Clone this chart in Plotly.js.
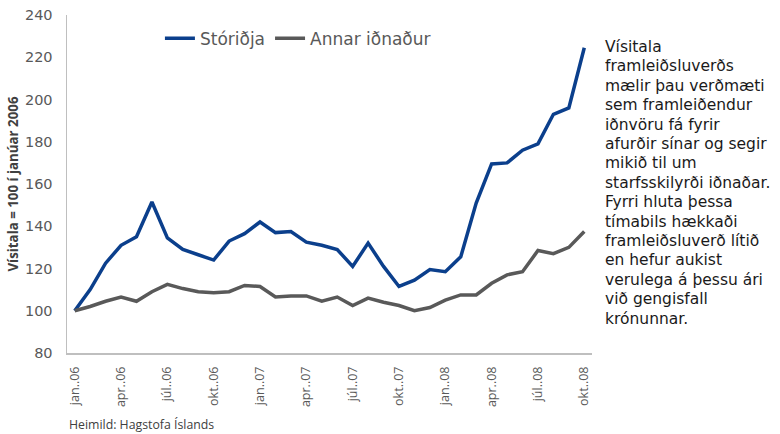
<!DOCTYPE html>
<html>
<head>
<meta charset="utf-8">
<script src="https://cdn.plot.ly/plotly-3.0.1.min.js"></script>
<style>html,body{margin:0;padding:0;background:#fff;}#chart{width:780px;height:434px;}</style>
</head>
<body>
<div id="chart"></div>
<script>
const months = ["jan..06","feb..06","mar..06","apr..06","maí..06","jún..06","júl..06","ágú..06","sep..06","okt..06","nóv..06","des..06",
"jan..07","feb..07","mar..07","apr..07","maí..07","jún..07","júl..07","ágú..07","sep..07","okt..07","nóv..07","des..07",
"jan..08","feb..08","mar..08","apr..08","maí..08","jún..08","júl..08","ágú..08","sep..08","okt..08"];
const storidja = [100,110,122.5,131,135,151.5,134.5,129,126.5,124,133,136.5,
142,137,137.5,132.5,131,129,121,132,121,111.5,114.5,119.5,
118.5,125.5,151,169.5,170,176,179,193,196,224.5];
const annar = [100,102,104.5,106.5,104.5,109,112.5,110.5,109,108.5,109,112,
111.5,106.5,107,107,104.5,106.5,102.5,106,104,102.5,100,101.5,
105,107.5,107.5,113,117,118.5,128.5,127,130,137.5];
const seriesNames = ["Stóriðja","Annar iðnaður"];
const tickIdx = [0,3,6,9,12,15,18,21,24,27,30,33];
const tickLabels = tickIdx.map(i => months[i]);
const sideText = ["Vísitala","framleiðsluverðs","mælir þau verðmæti","sem framleiðendur","iðnvöru fá fyrir","afurðir sínar og segir","mikið til um","starfsskilyrði iðnaðar.","Fyrri hluta þessa","tímabils hækkaði","framleiðsluverð lítið","en hefur aukist","verulega á þessu ári","við gengisfall","krónunnar."];

const xIdx = months.map((_, i) => i);
const traces = [
  {x: xIdx, y: storidja, name: seriesNames[0], type: "scatter", mode: "lines",
   line: {color: "#0b3f8c", width: 3.5}},
  {x: xIdx, y: annar, name: seriesNames[1], type: "scatter", mode: "lines",
   line: {color: "#595959", width: 3.5}}
];

const plotTop = 15, plotH = 338, plotL = 67, plotW = 525;
const annotations = sideText.map((t, i) => ({
  xref: "paper", yref: "paper", x: (603 - plotL) / plotW,
  y: (353 - (47 + i * 19.4)) / plotH, xanchor: "left", yanchor: "middle",
  align: "left", showarrow: false, text: t,
  font: {family: "DejaVu Sans", size: 15.5, color: "#1a1a1a"}
}));
annotations.push({xref: "paper", yref: "paper", x: 0, y: -(424 - 353) / plotH, xanchor: "left", yanchor: "middle",
  showarrow: false, text: "Heimild: Hagstofa Íslands",
  font: {family: "Open Sans", size: 12.3, color: "#404040"}});

const layout = {
  width: 780, height: 434,
  margin: {l: plotL, r: 780 - plotL - plotW, t: plotTop, b: 434 - plotTop - plotH},
  paper_bgcolor: "#ffffff", plot_bgcolor: "#ffffff",
  showlegend: true,
  legend: {orientation: "h", x: 0.177, xanchor: "left", y: 0.93, yanchor: "middle",
    font: {family: "DejaVu Sans", size: 17, color: "#595959"}, bgcolor: "rgba(0,0,0,0)",
    itemwidth: 30, tracegroupgap: 0},
  xaxis: {range: [-0.5, 33.5], tickmode: "array", tickvals: tickIdx, ticktext: tickLabels,
    tickangle: -90, showgrid: false, zeroline: false, showline: true, linecolor: "#bfbfbf", linewidth: 1.5,
    ticks: "", ticklabelstandoff: 7,
    tickfont: {family: "Open Sans", size: 12.5, color: "#595959"}},
  yaxis: {range: [80, 240], dtick: 20, showgrid: false, zeroline: false, showline: true,
    linecolor: "#bfbfbf", linewidth: 1.5, ticks: "", ticklabelstandoff: 10,
    tickfont: {family: "DejaVu Sans", size: 14.5, color: "#595959"},
    title: {text: "<b>Vísitala = 100 í janúar 2006</b>", standoff: 3,
      font: {family: "Open Sans", size: 13.3, color: "#404040"}}},
  annotations: annotations
};

Plotly.newPlot("chart", traces, layout, {displayModeBar: false, staticPlot: true});
</script>
</body>
</html>
